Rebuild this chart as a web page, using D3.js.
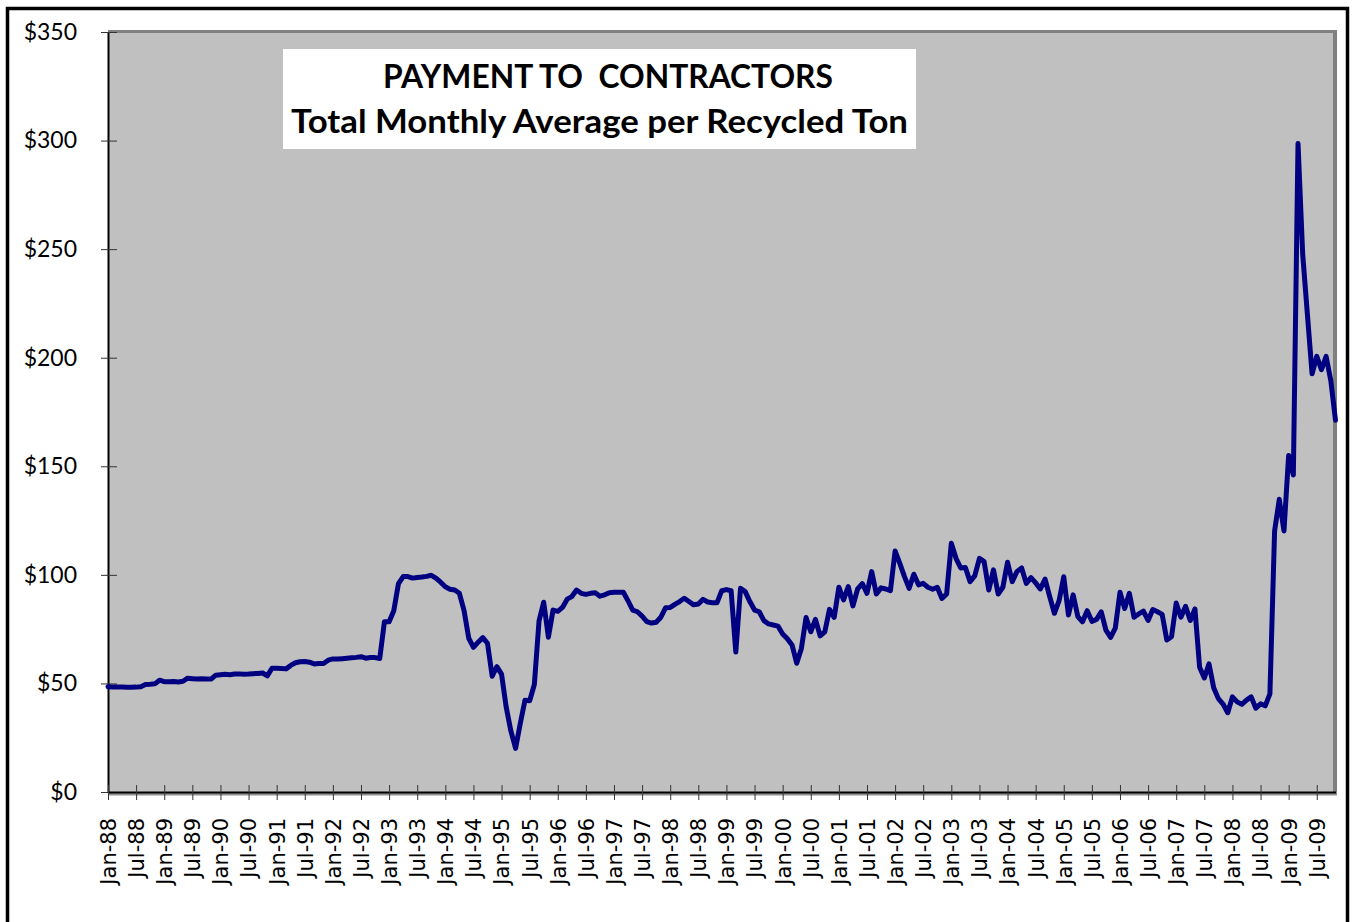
<!DOCTYPE html>
<html>
<head>
<meta charset="utf-8">
<script src="https://cdn.jsdelivr.net/npm/d3@7"></script>
<style>
  body { margin: 0; background: #fff; }
  svg { display: block; }
</style>
</head>
<body>
<svg id="chart" width="1353" height="922"></svg>
<script>
// Monthly payment per recycled ton, Jan-88 .. Nov-09 (one row per year)
let payments = [
  48.5, 48.4, 48.3, 48.3, 48.2, 48.2, 48.3, 48.5, 49.5, 49.6, 49.8, 51.5,
  50.8, 50.8, 50.9, 50.7, 51.0, 52.4, 52.2, 52.0, 52.1, 52.0, 52.0, 53.8,
  54.0, 54.2, 54.0, 54.3, 54.4, 54.2, 54.3, 54.5, 54.6, 54.8, 53.5, 57.0,
  57.0, 56.9, 56.7, 58.3, 59.5, 60.0, 60.1, 59.8, 59.0, 59.2, 59.2, 60.7,
  61.3, 61.2, 61.4, 61.6, 61.8, 62.0, 62.3, 61.6, 61.9, 61.9, 61.5, 78.4,
  78.4, 83.5, 96.0, 99.2, 99.2, 98.5, 98.8, 99.0, 99.3, 99.8, 98.5, 96.6,
  94.5, 93.4, 93.0, 91.5, 83.5, 70.8, 66.6, 69.0, 71.1, 68.5, 53.3, 57.7,
  54.3, 39.0, 28.0, 20.1, 31.6, 42.3, 42.0, 49.5, 78.8, 87.4, 71.3, 83.8,
  83.2, 85.0, 88.8, 90.0, 93.0, 91.5, 91.0, 91.5, 91.8, 90.2, 90.8, 91.8,
  92.0, 92.0, 92.0, 88.0, 83.8, 83.0, 81.0, 78.5, 77.8, 78.2, 80.5, 84.8,
  85.0, 86.4, 87.7, 89.2, 87.7, 86.2, 86.6, 88.7, 87.5, 87.2, 87.2, 92.7,
  93.2, 92.7, 64.5, 93.8, 92.3, 87.7, 83.8, 83.0, 78.9, 77.4, 76.9, 76.4,
  72.8, 70.6, 67.7, 59.3, 66.1, 80.4, 73.8, 79.5, 71.9, 73.8, 84.1, 80.4,
  94.3, 88.5, 94.6, 85.7, 93.5, 96.0, 91.5, 101.5, 91.2, 94.0, 93.5, 92.7,
  111.0, 105.3, 99.2, 93.8, 100.3, 95.4, 96.1, 94.3, 93.4, 94.3, 89.1, 91.2,
  114.6, 107.6, 103.2, 103.4, 96.9, 99.5, 107.6, 106.1, 93.0, 102.3, 91.2, 94.3,
  105.8, 96.9, 101.5, 103.2, 96.1, 98.7, 96.3, 93.5, 98.1, 90.0, 82.3, 88.1,
  99.1, 81.5, 90.8, 80.8, 78.4, 83.5, 78.6, 79.5, 83.0, 74.5, 71.2, 75.5,
  92.0, 84.5, 91.5, 80.5, 82.0, 83.3, 79.0, 84.0, 83.0, 81.8, 70.0, 71.5,
  87.0, 80.5, 85.5, 79.0, 84.3, 57.4, 52.5, 59.0, 48.0, 43.0, 40.5, 36.5,
  43.8, 41.5, 40.4, 42.3, 43.8, 38.6, 40.6, 39.7, 45.2, 120.2, 134.8, 120.2,
  155.0, 146.0, 298.6, 247.6, 220.0, 192.6, 200.6, 194.5, 200.6, 189.4, 171.2
];

let x_labels = ["Jan-88", "Jul-88", "Jan-89", "Jul-89", "Jan-90", "Jul-90", "Jan-91", "Jul-91",
  "Jan-92", "Jul-92", "Jan-93", "Jul-93", "Jan-94", "Jul-94", "Jan-95", "Jul-95",
  "Jan-96", "Jul-96", "Jan-97", "Jul-97", "Jan-98", "Jul-98", "Jan-99", "Jul-99",
  "Jan-00", "Jul-00", "Jan-01", "Jul-01", "Jan-02", "Jul-02", "Jan-03", "Jul-03",
  "Jan-04", "Jul-04", "Jan-05", "Jul-05", "Jan-06", "Jul-06", "Jan-07", "Jul-07",
  "Jan-08", "Jul-08", "Jan-09", "Jul-09"];

let y_ticks = [0, 50, 100, 150, 200, 250, 300, 350];

let title_lines = ["PAYMENT TO\u00a0 CONTRACTORS", "Total Monthly Average per Recycled Ton"];

// month categories: Jan-88 through Nov-09
let fmt = d3.timeFormat("%b-%y");
let months = d3.timeMonths(new Date(1988, 0, 1), new Date(2009, 11, 1)).map(fmt);

let data = months.map((m, i) => ({ month: m, value: payments[i] }));

let PLOT_LEFT = 108;
let PLOT_RIGHT = 1335.5;
let PLOT_TOP = 32;
let PLOT_BOTTOM = 792;

let svg = d3.select('#chart');

// outer frame
svg.append('rect')
  .attr('x', 7.5).attr('y', 8.5)
  .attr('width', 1340).attr('height', 1000)
  .attr('fill', 'none')
  .attr('stroke', '#000')
  .attr('stroke-width', 3.5);

let xScale = d3.scalePoint()
  .domain(months)
  .range([PLOT_LEFT, PLOT_RIGHT]);

let yScale = d3.scaleLinear()
  .domain([0, 350])
  .range([PLOT_BOTTOM, PLOT_TOP]);

// plot area with grey shadow on top/right
svg.append('rect')
  .attr('x', PLOT_LEFT).attr('y', PLOT_TOP)
  .attr('width', 1334 - PLOT_LEFT).attr('height', PLOT_BOTTOM - PLOT_TOP)
  .attr('fill', '#c0c0c0');

svg.append('line')
  .attr('x1', PLOT_LEFT).attr('x2', 1337)
  .attr('y1', PLOT_TOP - 0.5).attr('y2', PLOT_TOP - 0.5)
  .attr('stroke', '#808080').attr('stroke-width', 3);

svg.append('line')
  .attr('x1', 1335).attr('x2', 1335)
  .attr('y1', PLOT_TOP - 2).attr('y2', PLOT_BOTTOM + 3)
  .attr('stroke', '#808080').attr('stroke-width', 4);

svg.append('line')
  .attr('x1', PLOT_LEFT).attr('x2', 1337)
  .attr('y1', PLOT_BOTTOM + 2).attr('y2', PLOT_BOTTOM + 2)
  .attr('stroke', '#909090').attr('stroke-width', 3);

// title box
let title = svg.append('g');
title.append('rect')
  .attr('x', 283).attr('y', 49)
  .attr('width', 633).attr('height', 100)
  .attr('fill', '#fff');

let title_pos = [{ x: 608, y: 88, w: 450 }, { x: 599.5, y: 133, w: 617 }];

title.selectAll('text')
  .data(title_lines)
  .join('text')
  .attr('x', (d, i) => title_pos[i].x)
  .attr('y', (d, i) => title_pos[i].y)
  .attr('text-anchor', 'middle')
  .attr('textLength', (d, i) => title_pos[i].w)
  .attr('lengthAdjust', 'spacingAndGlyphs')
  .attr('font-family', 'Lato, "Open Sans", sans-serif')
  .attr('font-weight', 'bold')
  .attr('font-size', 33)
  .attr('fill', '#000')
  .text(d => d);

// y axis
let yAxis = svg.append('g')
  .attr('transform', `translate(${PLOT_LEFT},0)`)
  .call(d3.axisLeft(yScale)
    .tickValues(y_ticks)
    .tickSizeInner(7)
    .tickSizeOuter(0)
    .tickPadding(24)
    .tickFormat(d => '$' + d));

yAxis.select('.domain').attr('stroke', '#000').attr('stroke-width', 2);
yAxis.selectAll('.tick line')
  .attr('x1', -7).attr('x2', 9)
  .attr('stroke', '#333');
yAxis.selectAll('.tick text')
  .attr('font-family', 'Lato, sans-serif')
  .attr('font-size', 23)
  .attr('fill', '#000');

// x axis
let xAxis = svg.append('g')
  .attr('transform', `translate(0,${PLOT_BOTTOM})`)
  .call(d3.axisBottom(xScale)
    .tickValues(x_labels)
    .tickSizeInner(8)
    .tickSizeOuter(0)
    .tickPadding(10));

xAxis.select('.domain').attr('stroke', '#000').attr('stroke-width', 2);
xAxis.selectAll('.tick line')
  .attr('y1', -7).attr('y2', 8)
  .attr('stroke', '#333');
xAxis.selectAll('.tick text')
  .attr('font-family', '"DejaVu Sans", Verdana, sans-serif')
  .attr('font-size', 21)
  .attr('fill', '#000')
  .attr('text-anchor', 'end')
  .attr('dy', '0.35em')
  .attr('transform', 'translate(0,26) rotate(-90)')
  .attr('x', 0).attr('y', 0);

// data line
let line = d3.line()
  .x(d => xScale(d.month))
  .y(d => yScale(d.value));

svg.append('path')
  .datum(data)
  .attr('d', line)
  .attr('fill', 'none')
  .attr('stroke', '#000080')
  .attr('stroke-width', 5)
  .attr('stroke-linejoin', 'round')
  .attr('stroke-linecap', 'round');
</script>
</body>
</html>
